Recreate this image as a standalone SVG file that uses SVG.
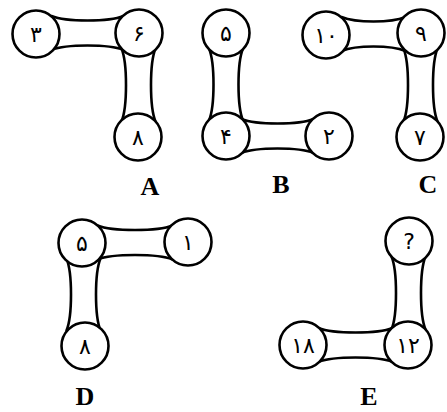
<svg xmlns="http://www.w3.org/2000/svg" width="447" height="412" viewBox="0 0 447 412">
<style>
.link{fill:#fff;stroke:#000;stroke-width:2.6;stroke-linejoin:round}
.node circle{fill:#fff;stroke:#000;stroke-width:2.6}
.node text{font-family:"DejaVu Sans","Noto Sans",sans-serif;font-size:22px;text-anchor:middle;fill:#000}
.lbl{font-family:"Liberation Serif",serif;font-size:26px;font-weight:bold;text-anchor:middle;fill:#000}
</style>
<rect width="447" height="412" fill="#fff"/>
<g id="connectors">
<path class="link" d="M51.5,16 C66,22 109,22 123.5,16 L123.5,50 C109,44 66,44 51.5,50 Z"/>
<path class="link" d="M121.5,48.5 C127.5,63 127.5,107 121.5,121.5 L155.5,121.5 C149.5,107 149.5,63 155.5,48.5 Z"/>
<path class="link" d="M209,48.5 C215,63 215,106 209,120.5 L243,120.5 C237,106 237,63 243,48.5 Z"/>
<path class="link" d="M241.5,119 C256,125 299,125 313.5,119 L313.5,153 C299,147 256,147 241.5,153 Z"/>
<path class="link" d="M341.5,17 C356,23 391,23 405.5,17 L405.5,51 C391,45 356,45 341.5,51 Z"/>
<path class="link" d="M403.5,48.5 C409.5,63 409.5,107 403.5,121.5 L437.5,121.5 C431.5,107 431.5,63 437.5,48.5 Z"/>
<path class="link" d="M97.5,225.5 C112,231.5 158,231.5 172.5,225.5 L172.5,259.5 C158,253.5 112,253.5 97.5,259.5 Z"/>
<path class="link" d="M66.5,258.5 C72.5,273 72.5,316 66.5,330.5 L100.5,330.5 C94.5,316 94.5,273 100.5,258.5 Z"/>
<path class="link" d="M391.5,256.5 C397.5,271 397.5,315 391.5,329.5 L425.5,329.5 C419.5,315 419.5,271 425.5,256.5 Z"/>
<path class="link" d="M318.5,328 C333,334 378,334 392.5,328 L392.5,362 C378,356 333,356 318.5,362 Z"/>
</g>
<g id="A1" class="node"><circle cx="36" cy="34" r="23.5"/><text x="36" y="42">۳</text></g>
<g id="A2" class="node"><circle cx="139" cy="33" r="23.5"/><text x="139" y="41">۶</text></g>
<g id="A3" class="node"><circle cx="138" cy="137" r="23.5"/><text x="138" y="145">۸</text></g>
<g id="B1" class="node"><circle cx="226" cy="33" r="23.5"/><text x="226" y="41">۵</text></g>
<g id="B2" class="node"><circle cx="226" cy="136" r="23.5"/><text x="226" y="144">۴</text></g>
<g id="B3" class="node"><circle cx="329" cy="136" r="23.5"/><text x="329" y="144">۲</text></g>
<g id="C1" class="node"><circle cx="326" cy="35" r="23.5"/><text x="326" y="43">۱۰</text></g>
<g id="C2" class="node"><circle cx="421" cy="33" r="23.5"/><text x="421" y="41">۹</text></g>
<g id="C3" class="node"><circle cx="420" cy="137" r="23.5"/><text x="420" y="145">۷</text></g>
<g id="D1" class="node"><circle cx="82" cy="243" r="23.5"/><text x="82" y="251">۵</text></g>
<g id="D2" class="node"><circle cx="188" cy="242" r="23.5"/><text x="188" y="250">۱</text></g>
<g id="D3" class="node"><circle cx="85" cy="346" r="23.5"/><text x="85" y="354">۸</text></g>
<g id="E1" class="node"><circle cx="409" cy="241" r="23.5"/><text x="409" y="249">?</text></g>
<g id="E2" class="node"><circle cx="408" cy="345" r="23.5"/><text x="408" y="353">۱۲</text></g>
<g id="E3" class="node"><circle cx="303" cy="345" r="23.5"/><text x="303" y="353">۱۸</text></g>
<g id="labels">
<text class="lbl" x="150" y="195">A</text>
<text class="lbl" x="281" y="193">B</text>
<text class="lbl" x="428" y="193">C</text>
<text class="lbl" x="85" y="405">D</text>
<text class="lbl" x="369" y="405">E</text>
</g>
</svg>
